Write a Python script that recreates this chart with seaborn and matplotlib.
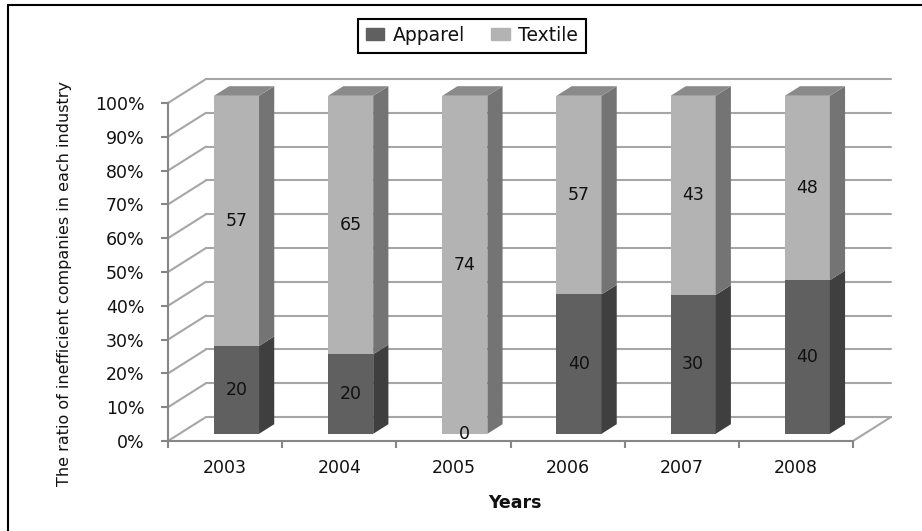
import seaborn as sns
import pandas as pd
import numpy as np
import matplotlib.pyplot as plt
import matplotlib.transforms as mtransforms
from matplotlib.patches import Polygon, Patch
from matplotlib.lines import Line2D

# data (counts of inefficient companies)
years = ["2003", "2004", "2005", "2006", "2007", "2008"]
apparel = [20, 20, 0, 40, 30, 40]
textile = [57, 65, 74, 57, 43, 48]
y_ticks = [0, 10, 20, 30, 40, 50, 60, 70, 80, 90, 100]
y_tick_labels = ["0%", "10%", "20%", "30%", "40%", "50%", "60%", "70%", "80%", "90%", "100%"]

df = pd.DataFrame({"year": years, "apparel": apparel, "textile": textile})
df["total"] = df["apparel"] + df["textile"]
df["apparel_pct"] = 100 * df["apparel"] / df["total"]
df["full"] = 100.0

# colours
tex_front, tex_side, tex_top = "#b3b3b3", "#747474", "#8a8a8a"
app_front, app_side = "#606060", "#3f3f3f"
grid_col = "#a6a6a6"
axis_col = "#868686"

# 3d depth vector in pixels
DX, DY = 38, 24
bar_front, bar_depth = 0.3, 0.4

sns.set_theme(style="white")
plt.rcParams["font.family"] = ["DejaVu Sans"]
plt.rcParams["text.color"] = "#111111"
plt.rcParams["xtick.labelcolor"] = "#111111"
plt.rcParams["ytick.labelcolor"] = "#111111"

fig = plt.figure(figsize=(9.22, 5.31), dpi=100)
ax = fig.add_axes([168 / 922, 90 / 531, 685 / 922, 338 / 531])
ax.set_facecolor("none")

sns.barplot(data=df, x="year", y="full", color=tex_front, saturation=1,
            width=0.395, linewidth=0, ax=ax, zorder=3)
sns.barplot(data=df, x="year", y="apparel_pct", color=app_front, saturation=1,
            width=0.395, linewidth=0, ax=ax, zorder=3)
ax.set_xlim(-0.5, 5.5)
ax.set_ylim(0, 100)

front = mtransforms.offset_copy(ax.transData, fig=fig, x=bar_front * DX,
                                y=bar_front * DY, units="dots")
back = mtransforms.offset_copy(ax.transData, fig=fig, x=DX, y=DY, units="dots")
for p in ax.patches:
    p.set_transform(front)
    p.set_clip_on(False)


def disp(x, y, depth):
    px, py = ax.transData.transform((x, y))
    return (px + depth * DX, py + depth * DY)


ident = mtransforms.IdentityTransform()

# walls
for v in y_ticks:
    ax.plot([-0.5, 5.5], [v, v], transform=back, color=grid_col, lw=1.5,
            zorder=1, clip_on=False)
    a, b = disp(-0.5, v, 0), disp(-0.5, v, 1)
    ax.add_line(Line2D([a[0], b[0]], [a[1], b[1]], transform=ident,
                       color=grid_col, lw=1.5, zorder=1, clip_on=False))
a, b = disp(5.5, 0, 0), disp(5.5, 0, 1)
ax.add_line(Line2D([a[0], b[0]], [a[1], b[1]], transform=ident,
                   color=grid_col, lw=1.5, zorder=1, clip_on=False))

# side and top faces of bars
tex_patches = ax.patches[:len(years)]
for i, p in enumerate(tex_patches):
    x1 = p.get_x() + p.get_width()
    x0 = p.get_x()
    a_pct = df["apparel_pct"][i]
    f0, f1 = bar_front, bar_front + bar_depth
    for lo, hi, col in [(0, a_pct, app_side), (a_pct, 100, tex_side)]:
        if hi - lo <= 0:
            continue
        pts = [disp(x1, lo, f0), disp(x1, hi, f0), disp(x1, hi, f1), disp(x1, lo, f1)]
        ax.add_patch(Polygon(pts, closed=True, transform=ident, facecolor=col,
                             edgecolor="none", zorder=3, clip_on=False))
    pts = [disp(x0, 100, f0), disp(x1, 100, f0), disp(x1, 100, f1), disp(x0, 100, f1)]
    ax.add_patch(Polygon(pts, closed=True, transform=ident, facecolor=tex_top,
                         edgecolor="none", zorder=3, clip_on=False))

    # data labels
    cx = x0 + p.get_width() / 2
    ax.text(cx, a_pct / 2, str(df["apparel"][i]), transform=front, ha="center",
            va="center", fontsize=12.5, zorder=5)
    ax.text(cx, (a_pct + 100) / 2, str(df["textile"][i]), transform=front,
            ha="center", va="center", fontsize=12.5, zorder=5)

# front axes
for s in ["top", "right"]:
    ax.spines[s].set_visible(False)
for s in ["left", "bottom"]:
    ax.spines[s].set_color(axis_col)
    ax.spines[s].set_linewidth(1.5)
ax.set_yticks(y_ticks)
ax.set_yticklabels(y_tick_labels)
ax.set_xticks(range(len(years)))
ax.set_xticklabels(years)
ax.set_xticks([i - 0.5 for i in range(len(years) + 1)], minor=True)
ax.tick_params(axis="y", which="major", direction="out", length=5, width=1.5,
               color=axis_col, pad=12, labelsize=12.5, left=True)
ax.tick_params(axis="x", which="major", length=0, pad=13, labelsize=12.5)
ax.tick_params(axis="x", which="minor", direction="out", length=5, width=1.5,
               color=axis_col, bottom=True)
ax.set_xlabel("")
ax.set_ylabel("")

fig.text(65 / 922, 1 - 283 / 531, "The ratio of inefficient companies in each industry",
         rotation=90, ha="center", va="center", fontsize=11.5)
fig.text(515 / 922, 1 - 503 / 531, "Years", ha="center", va="center",
         fontsize=12.5, fontweight="bold")

leg = fig.legend(handles=[Patch(color=app_front, label="Apparel"),
                          Patch(color=tex_front, label="Textile")],
                 loc="center", bbox_to_anchor=(472 / 922, 1 - 35.5 / 531), ncol=2,
                 frameon=True, fancybox=False, edgecolor="black", fontsize=13.5,
                 handlelength=1.0, handleheight=0.6, handletextpad=0.45,
                 columnspacing=1.4, borderpad=0.4, borderaxespad=0,
                 framealpha=1)
leg.get_frame().set_linewidth(1.5)

# outer border
fig.add_artist(Line2D([8 / 922, 8 / 922], [0, 1 - 5 / 531], transform=fig.transFigure,
                      color="black", lw=1.5))
fig.add_artist(Line2D([8 / 922, 1], [1 - 5 / 531, 1 - 5 / 531], transform=fig.transFigure,
                      color="black", lw=1.5))

fig.savefig("out.png", dpi=100)
